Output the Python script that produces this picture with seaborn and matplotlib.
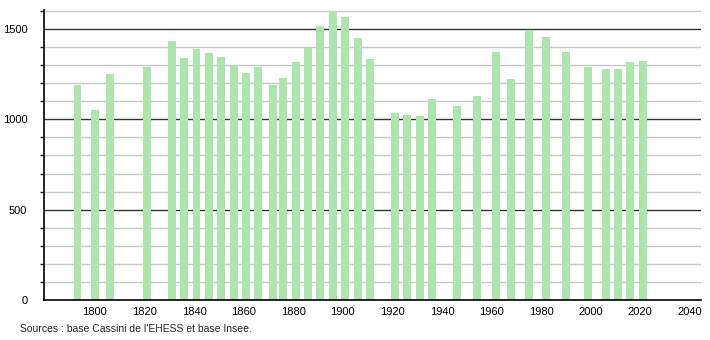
import matplotlib
matplotlib.use("Agg")
import matplotlib.pyplot as plt
import seaborn as sns
import pandas as pd
from matplotlib.ticker import MultipleLocator

years = [1793, 1800, 1806, 1821, 1831, 1836, 1841, 1846, 1851, 1856, 1861, 1866,
         1872, 1876, 1881, 1886, 1891, 1896, 1901, 1906, 1911, 1921, 1926, 1931,
         1936, 1946, 1954, 1962, 1968, 1975, 1982, 1990, 1999, 2006, 2011, 2016, 2021]
population = [1190, 1051, 1251, 1288, 1433, 1338, 1389, 1367, 1345, 1297, 1256, 1288,
              1190, 1229, 1317, 1396, 1516, 1598, 1566, 1450, 1332, 1033, 1022, 1018,
              1111, 1074, 1127, 1372, 1221, 1494, 1455, 1374, 1288, 1278, 1278, 1317, 1323]
x_ticks = [1800, 1820, 1840, 1860, 1880, 1900, 1920, 1940, 1960, 1980, 2000, 2020, 2040]
y_ticks = [0, 500, 1000, 1500]
source_text = "Sources : base Cassini de l'EHESS et base Insee."

df = pd.DataFrame({"year": years, "pop": population})

sns.set_style("white")
plt.rcParams["font.family"] = ["Liberation Sans", "DejaVu Sans"]

fig = plt.figure(figsize=(7.1, 3.4), dpi=100)
ax = fig.add_axes([44 / 710, 40 / 340, 657 / 710, 290 / 340])

sns.barplot(data=df, x="year", y="pop", native_scale=True, color="#aee4ae",
            saturation=1, errorbar=None, width=0.8, ax=ax, zorder=3, linewidth=0)

ax.set_xlim(1779.5, 2044.5)
ax.set_ylim(0, 1605)

# grid lines
for v in range(100, 1700, 100):
    if v % 500 == 0:
        ax.axhline(v, color="#333333", lw=1.0, zorder=1)
    else:
        ax.axhline(v, color="#c8c8c8", lw=1.0, zorder=1)

ax.set_xticks(x_ticks)
ax.set_xticklabels([str(t) for t in x_ticks])
ax.set_yticks(y_ticks)
ax.set_yticklabels([str(t) for t in y_ticks])
ax.yaxis.set_minor_locator(MultipleLocator(100))
ax.tick_params(axis="x", length=0, labelsize=8, pad=5, colors="black")
ax.tick_params(axis="y", which="major", length=6, width=1, labelsize=8, pad=6, colors="black")
ax.tick_params(axis="y", which="minor", length=3, width=1, left=True)
ax.set_xlabel("")
ax.set_ylabel("")

for s in ["top", "right"]:
    ax.spines[s].set_visible(False)
ax.spines["left"].set_color("black")
ax.spines["bottom"].set_color("black")
ax.spines["left"].set_linewidth(1.2)
ax.spines["bottom"].set_linewidth(1.2)
ax.spines["bottom"].set_zorder(5)

fig.text(20 / 710, 1 - 329 / 340, source_text, fontsize=7.5, va="center", ha="left")

fig.savefig("out.png", dpi=100)
